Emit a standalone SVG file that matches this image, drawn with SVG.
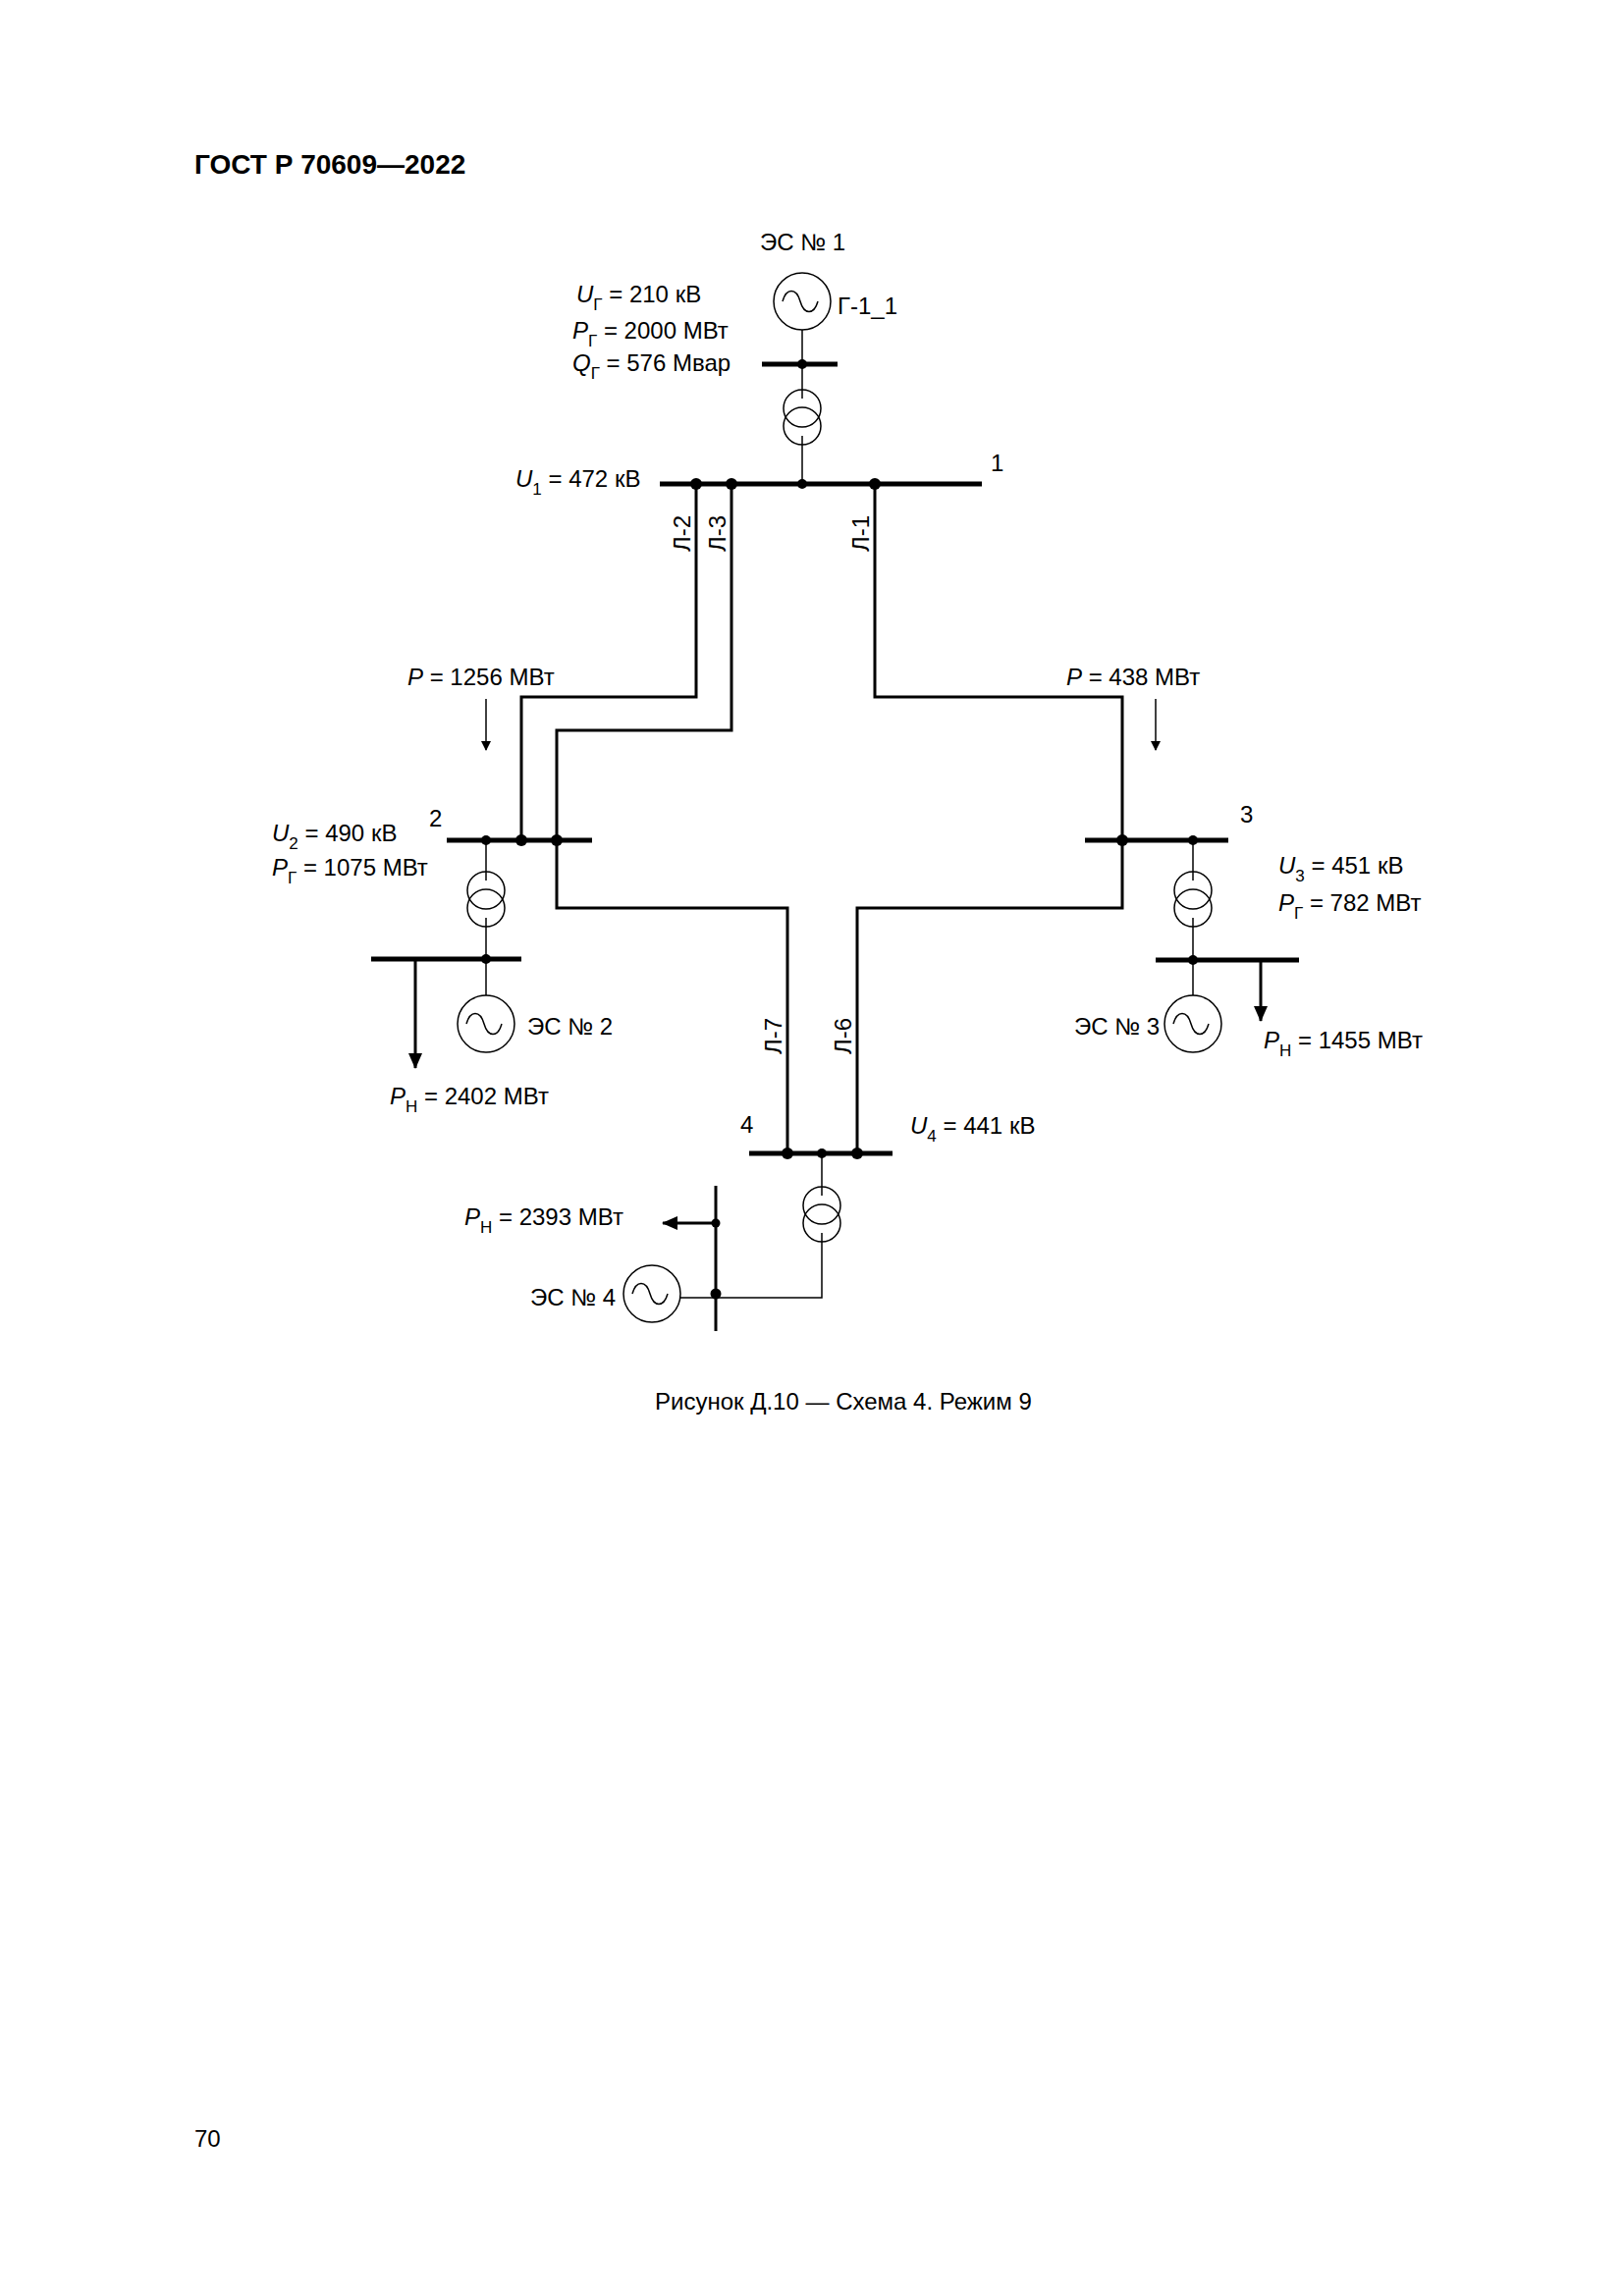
<svg xmlns="http://www.w3.org/2000/svg" width="1654" height="2339" viewBox="0 0 1654 2339">
<style>
text{font-family:"Liberation Sans",Arial,sans-serif;font-size:24px;fill:#000}
.i{font-style:italic}
.s{font-size:17px;font-style:normal}
.bus{stroke:#000;stroke-width:5;fill:none}
.ln{stroke:#000;stroke-width:3;fill:none}
.th{stroke:#000;stroke-width:1.5;fill:none}
.dot{fill:#000}
</style>
<defs>
<marker id="ar" markerWidth="10" markerHeight="10" refX="9" refY="5" orient="auto" markerUnits="userSpaceOnUse"><path d="M0,0 L10,5 L0,10 z" fill="#000"/></marker>
<marker id="arb" markerWidth="16" markerHeight="14" refX="15" refY="7" orient="auto" markerUnits="userSpaceOnUse"><path d="M0,0 L16,7 L0,14 z" fill="#000"/></marker>
<g id="gen"><circle r="29" fill="#fff" stroke="#000" stroke-width="1.5"/><path d="M-20,0 C-16,-14 -6,-14 -2,0 C2,14 12,14 16,0" fill="none" stroke="#000" stroke-width="1.5"/></g>
<g id="tr"><circle cx="0" cy="-9" r="19" fill="none" stroke="#000" stroke-width="1.5"/><circle cx="0" cy="9" r="19" fill="none" stroke="#000" stroke-width="1.5"/></g>
</defs>
<text x="198" y="177" style="font-weight:bold;font-size:28px">ГОСТ Р 70609—2022</text>
<text x="198" y="2187">70</text>
<g transform="translate(-3,0)">
<g id="connectors">
<polyline class="ln" points="712,493 712,710 534,710 534,856"/>
<polyline class="ln" points="748,493 748,744 570,744 570,925 805,925 805,1175"/>
<polyline class="ln" points="894,493 894,710 1146,710 1146,925 876,925 876,1175"/>
<line class="th" x1="820" y1="336" x2="820" y2="406"/>
<line class="th" x1="820" y1="444" x2="820" y2="493"/>
<line class="th" x1="498" y1="856" x2="498" y2="897"/>
<line class="th" x1="498" y1="935" x2="498" y2="1014"/>
<line class="th" x1="1218" y1="856" x2="1218" y2="897"/>
<line class="th" x1="1218" y1="935" x2="1218" y2="1014"/>
<polyline class="th" points="840,1175 840,1218"/>
<polyline class="th" points="840,1256 840,1322 696,1322"/>
<line class="ln" x1="426" y1="977" x2="426" y2="1088" marker-end="url(#arb)"/>
<line class="ln" x1="1287" y1="978" x2="1287" y2="1040" marker-end="url(#arb)"/>
<line class="ln" x1="732" y1="1246" x2="678" y2="1246" marker-end="url(#arb)"/>
<line class="th" x1="498" y1="712" x2="498" y2="764" marker-end="url(#ar)"/>
<line class="th" x1="1180" y1="712" x2="1180" y2="764" marker-end="url(#ar)"/>
</g>
<g id="es1">
<use href="#gen" x="820" y="307"/>
<text x="777" y="255">ЭС № 1</text>
<text x="856" y="320">Г-1_1</text>
<line class="bus" x1="779" y1="371" x2="856" y2="371"/>
<circle class="dot" cx="820" cy="371" r="5"/>
<use href="#tr" x="820" y="425"/>
<text x="590" y="308"><tspan class="i">U</tspan><tspan class="s" dy="8">Г</tspan><tspan dy="-8"> = 210 кВ</tspan></text>
<text x="586" y="345"><tspan class="i">P</tspan><tspan class="s" dy="8">Г</tspan><tspan dy="-8"> = 2000 МВт</tspan></text>
<text x="586" y="378"><tspan class="i">Q</tspan><tspan class="s" dy="8">Г</tspan><tspan dy="-8"> = 576 Мвар</tspan></text>
</g>
<g id="bus1">
<line class="bus" x1="675" y1="493" x2="1003" y2="493"/>
<circle class="dot" cx="712" cy="493" r="6"/><circle class="dot" cx="748" cy="493" r="6"/><circle class="dot" cx="820" cy="493" r="5"/><circle class="dot" cx="894" cy="493" r="6"/>
<text x="1012" y="480">1</text>
<text x="528" y="496"><tspan class="i">U</tspan><tspan class="s" dy="8">1</tspan><tspan dy="-8"> = 472 кВ</tspan></text>
</g>
<g id="labels">
<text transform="translate(706,562) rotate(-90)">Л-2</text>
<text transform="translate(742,562) rotate(-90)">Л-3</text>
<text transform="translate(888,562) rotate(-90)">Л-1</text>
<text transform="translate(799,1074) rotate(-90)">Л-7</text>
<text transform="translate(870,1074) rotate(-90)">Л-6</text>
<text x="418" y="698"><tspan class="i">P</tspan> = 1256 МВт</text>
<text x="1089" y="698"><tspan class="i">P</tspan> = 438 МВт</text>
</g>
<g id="bus2">
<line class="bus" x1="458" y1="856" x2="606" y2="856"/>
<circle class="dot" cx="498" cy="856" r="5"/><circle class="dot" cx="534" cy="856" r="6"/><circle class="dot" cx="570" cy="856" r="6"/>
<text x="440" y="842">2</text>
<text x="280" y="857"><tspan class="i">U</tspan><tspan class="s" dy="8">2</tspan><tspan dy="-8"> = 490 кВ</tspan></text>
<text x="280" y="892"><tspan class="i">P</tspan><tspan class="s" dy="8">Г</tspan><tspan dy="-8"> = 1075 МВт</tspan></text>
<use href="#tr" x="498" y="916"/>
<line class="bus" x1="381" y1="977" x2="534" y2="977"/>
<circle class="dot" cx="498" cy="977" r="5"/>
<use href="#gen" x="498" y="1043"/>
<text x="540" y="1054">ЭС № 2</text>
<text x="400" y="1125"><tspan class="i">P</tspan><tspan class="s" dy="8">Н</tspan><tspan dy="-8"> = 2402 МВт</tspan></text>
</g>
<g id="bus3">
<line class="bus" x1="1108" y1="856" x2="1254" y2="856"/>
<circle class="dot" cx="1146" cy="856" r="6"/><circle class="dot" cx="1218" cy="856" r="5"/>
<text x="1266" y="838">3</text>
<text x="1305" y="890"><tspan class="i">U</tspan><tspan class="s" dy="8">3</tspan><tspan dy="-8"> = 451 кВ</tspan></text>
<text x="1305" y="928"><tspan class="i">P</tspan><tspan class="s" dy="8">Г</tspan><tspan dy="-8"> = 782 МВт</tspan></text>
<use href="#tr" x="1218" y="916"/>
<line class="bus" x1="1180" y1="978" x2="1326" y2="978"/>
<circle class="dot" cx="1218" cy="978" r="5"/>
<use href="#gen" x="1218" y="1043"/>
<text x="1184" y="1054" text-anchor="end">ЭС № 3</text>
<text x="1290" y="1068"><tspan class="i">P</tspan><tspan class="s" dy="8">Н</tspan><tspan dy="-8"> = 1455 МВт</tspan></text>
</g>
<g id="bus4">
<line class="bus" x1="766" y1="1175" x2="912" y2="1175"/>
<circle class="dot" cx="805" cy="1175" r="6"/><circle class="dot" cx="840" cy="1175" r="5"/><circle class="dot" cx="876" cy="1175" r="6"/>
<text x="757" y="1154">4</text>
<text x="930" y="1155"><tspan class="i">U</tspan><tspan class="s" dy="8">4</tspan><tspan dy="-8"> = 441 кВ</tspan></text>
<use href="#tr" x="840" y="1237"/>
</g>
<g id="es4">
<line class="ln" x1="732" y1="1208" x2="732" y2="1356"/>
<circle class="dot" cx="732" cy="1246" r="4.5"/><circle class="dot" cx="732" cy="1318" r="5.5"/>
<use href="#gen" x="667" y="1318"/>
<text x="630" y="1330" text-anchor="end">ЭС № 4</text>
<text x="476" y="1248"><tspan class="i">P</tspan><tspan class="s" dy="8">Н</tspan><tspan dy="-8"> = 2393 МВт</tspan></text>
</g>
<text x="670" y="1436">Рисунок Д.10 — Схема 4. Режим 9</text>
</g>
</svg>
